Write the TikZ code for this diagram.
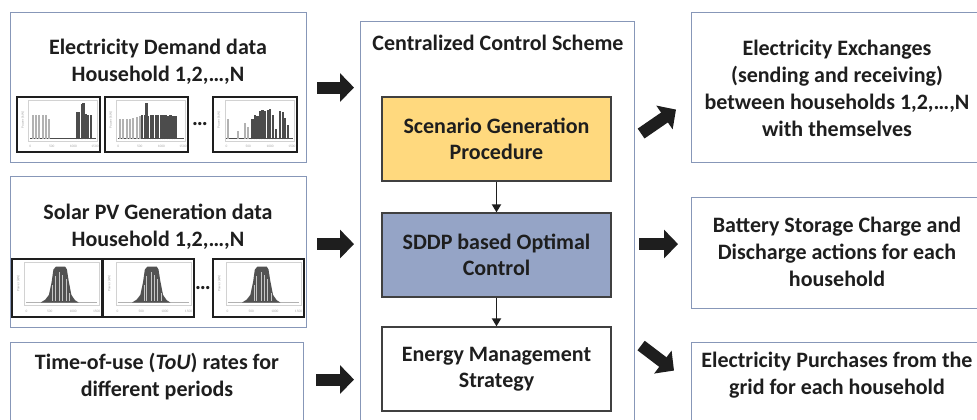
\documentclass[tikz,border=0pt]{standalone}
\usepackage{fontspec}
\setmainfont{Carlito}
\usepackage{tikz}
\usetikzlibrary{arrows.meta}

\definecolor{frameblue}{HTML}{8797B8}
\definecolor{procyellow}{HTML}{FFD97E}
\definecolor{procblue}{HTML}{95A4C6}
\definecolor{ink}{HTML}{1E1E1E}

\tikzset{
  box/.style={draw=frameblue, line width=1.1pt, fill=white, inner sep=0pt, anchor=north west},
  proc/.style={draw=ink!85, line width=1.3pt, minimum width=229pt, minimum height=84pt,
    align=center, font=\fontsize{22}{26}\selectfont\bfseries, text=ink},
  label/.style={align=center, font=\fontsize{22}{27}\selectfont\bfseries, text=ink},
  bigarrow/.style={line width=12pt, ink, -{Triangle[length=14pt,width=28pt]}},
  flow/.style={line width=1.8pt, ink, -{Triangle[length=8pt,width=9pt]}},
  plotframe/.style={draw=ink, line width=1.1pt},
  plotaxis/.style={draw=gray!35, line width=0.4pt},
  lightbar/.style={draw=gray!60, line width=2pt},
  darkbar/.style={draw=black!70, line width=2.2pt},
  ticklabel/.style={font=\fontsize{3.5}{4}\selectfont, text=gray!70, inner sep=0pt},
  pics/demand/.style 2 args={code={
    \fill[white] (0,0) rectangle (1,1);
    \draw[plotaxis] (0.14,0.06) rectangle (0.97,0.80);
    \draw[black!70, line width=1pt] (0.16,0.76) -- (0.95,0.76);
    \foreach \x/\t in {#1} \draw[lightbar] (\x,0.77) -- (\x,\t);
    \foreach \x/\t in {#2} \draw[darkbar] (\x,0.77) -- (\x,\t);
    \node[ticklabel, rotate=90] at (0.07,0.42) {Power (kW)};
    \foreach \x/\l in {0.16/0,0.42/500,0.68/1000,0.94/1500}
      \node[ticklabel] at (\x,0.9) {\l};
    \draw[plotframe] (0,0) rectangle (1,1);
  }},
  pics/solar/.style={code={
    \fill[white] (0,0) rectangle (1,1);
    \draw[plotaxis] (0.14,0.06) rectangle (0.97,0.80);
    \draw[gray!60, line width=0.6pt] (0.16,0.75) -- (0.94,0.75);
    \fill[black!68] (0.32,0.75) -- (0.37,0.70) -- (0.41,0.62) -- (0.44,0.40)
      -- (0.46,0.18) -- (0.49,0.13) -- (0.59,0.13) -- (0.61,0.18) -- (0.63,0.38)
      -- (0.66,0.62) -- (0.70,0.71) -- (0.74,0.75) -- cycle;
    \foreach \x/\t in {0.45/0.45,0.48/0.30,0.53/0.22,0.56/0.28,0.60/0.35,0.64/0.58}
      \draw[gray!45, line width=0.8pt] (\x,0.72) -- (\x,\t);
    \node[ticklabel, rotate=90] at (0.07,0.42) {Power (kW)};
    \foreach \x/\l in {0.16/0,0.42/500,0.68/1000,0.94/1500}
      \node[ticklabel] at (\x,0.9) {\l};
    \draw[plotframe] (0,0) rectangle (1,1);
  }},
}

\begin{document}
\begin{tikzpicture}[x=1pt, y=-1pt]
  \useasboundingbox (0,0) rectangle (977,420);
  \fill[white] (0,0) rectangle (977,420);

  % input side
  \node[box, minimum width=296pt, minimum height=150pt] (demand) at (10,12) {};
  \node[label] (demandtxt) at (158,62) {Electricity Demand data\\Household 1,2,…,N};
  \path (17,97) pic[x=83pt, y=-55pt] {demand={0.19/0.33,0.23/0.33,0.27/0.33,0.31/0.33,0.35/0.33,0.39/0.40}{0.72/0.28,0.75/0.27,0.78/0.12,0.80/0.10,0.83/0.30,0.86/0.33,0.89/0.33}};
  \path (105,97) pic[x=83pt, y=-55pt] {demand={0.18/0.40,0.22/0.40,0.26/0.40,0.30/0.40,0.34/0.38,0.38/0.36,0.42/0.34}{0.45/0.32,0.48/0.32,0.50/0.10,0.52/0.34,0.55/0.32,0.58/0.32,0.61/0.33,0.64/0.32,0.67/0.33,0.70/0.32,0.73/0.33,0.76/0.34,0.79/0.32,0.82/0.35,0.85/0.34}};
  \node[label] (demanddots) at (200,124) {…};
  \path (213,97) pic[x=84pt, y=-55pt] {demand={0.18/0.40,0.30/0.62,0.38/0.48,0.42/0.55}{0.47/0.40,0.50/0.32,0.53/0.34,0.56/0.26,0.59/0.24,0.62/0.25,0.65/0.24,0.68/0.22,0.71/0.32,0.75/0.58,0.80/0.26,0.83/0.28,0.86/0.38,0.89/0.50}};

  \node[box, minimum width=296pt, minimum height=151pt] (solar) at (10,176) {};
  \node[label] (solartxt) at (158,227) {Solar PV Generation data\\Household 1,2,…,N};
  \path (12,259) pic[x=90pt, y=-58pt] {solar};
  \path (103,259) pic[x=91pt, y=-58pt] {solar};
  \node[label] (solardots) at (203,288) {…};
  \path (213,259) pic[x=91pt, y=-58pt] {solar};

  \node[box, minimum width=293pt, minimum height=88pt] (tou) at (10,342) {};
  \node[label] (toutxt) at (157,377) {Time-of-use (\textit{ToU}) rates for\\different periods};

  % centralized controller
  \node[box, minimum width=274pt, minimum height=420pt] (ctrl) at (360,21) {};
  \node[label] (ctrltxt) at (498,43) {Centralized Control Scheme};
  \node[proc, fill=procyellow] (scen) at (496.5,139) {Scenario Generation\\Procedure};
  \node[proc, fill=procblue] (sddp) at (496.5,255) {SDDP based Optimal\\Control};
  \node[proc, fill=white] (ems) at (496.5,369) {Energy Management\\Strategy};
  \draw[flow] (scen) -- (sddp);
  \draw[flow] (sddp) -- (ems);

  % outputs
  \node[box, minimum width=300pt, minimum height=150pt] (exch) at (691,12) {};
  \node[label] (exchtxt) at (837,88) {Electricity Exchanges\\(sending and receiving)\\between households 1,2,…,N\\with themselves};
  \node[box, minimum width=300pt, minimum height=111pt] (batt) at (691,197) {};
  \node[label] (batttxt) at (837,252) {Battery Storage Charge and\\Discharge actions for each\\household};
  \node[box, minimum width=300pt, minimum height=88pt] (purch) at (691,342) {};
  \node[label] (purchtxt) at (837,375) {Electricity Purchases from the\\grid for each household};

  % data flow arrows
  \draw[bigarrow] ([xshift=10pt]demand.east) -- ([xshift=-6pt]demand.east -| ctrl.west);
  \draw[bigarrow] ([xshift=10pt,yshift=8pt]solar.east) -- ([xshift=-6pt,yshift=8pt]solar.east -| ctrl.west);
  \draw[bigarrow] ([xshift=12pt,yshift=7pt]tou.east) -- ([xshift=-6pt,yshift=7pt]tou.east -| ctrl.west);
  \draw[bigarrow] ([xshift=6pt,yshift=-46pt]exch.center -| ctrl.east) -- ([xshift=-15pt,yshift=-22pt]exch.west);
  \draw[bigarrow] ([xshift=4pt,yshift=9pt]batt.center -| ctrl.east) -- ([xshift=-13pt,yshift=9pt]batt.west);
  \draw[bigarrow] ([xshift=6pt,yshift=41pt]purch.center -| ctrl.east) -- ([xshift=-17pt,yshift=16pt]purch.center -| purch.west);
\end{tikzpicture}
\end{document}
